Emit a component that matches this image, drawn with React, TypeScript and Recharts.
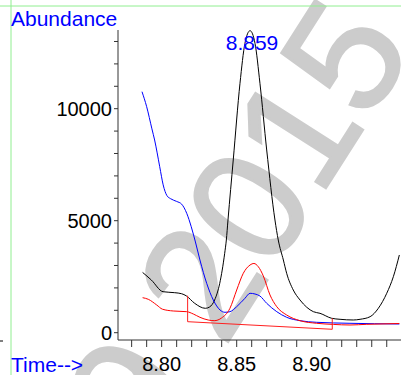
import React from 'react';
import { LineChart, Line, XAxis, YAxis } from 'recharts';

// retention time (min) and abundance
const blackTimes = [
  8.7873, 8.7931, 8.8009, 8.8087, 8.8133, 8.8164, 8.822, 8.8291, 8.832, 8.8353, 8.8387, 8.842,
  8.8431, 8.8442, 8.8477, 8.8522, 8.8555, 8.8589, 8.8622, 8.8655, 8.87, 8.8755, 8.8777, 8.8811,
  8.8833, 8.8877, 8.8922, 8.8967, 8.9011, 8.9055, 8.9133, 8.9189, 8.9277, 8.9322, 8.9389, 8.9444,
  8.95, 8.9544, 8.9584,
];
const blackValues = [
  2690, 2353, 1830, 1786, 1740, 1645, 1312, 1089, 1150, 1460, 2205, 3545,
  4138, 5031, 7710, 11134, 12920, 13482, 12920, 11134, 8156, 5031, 4138, 3246,
  2652, 1906, 1460, 1134, 938, 866, 643, 598, 567, 598, 714, 1089,
  1759, 2500, 3469,
];

const blueTimes = [
  8.7869, 8.79, 8.7935, 8.7953, 8.7987, 8.801, 8.8035, 8.806, 8.81, 8.8133, 8.8167, 8.8197,
  8.8225, 8.8255, 8.83, 8.8344, 8.8389, 8.8422, 8.8455, 8.85, 8.8555, 8.8589, 8.8622, 8.8655,
  8.87, 8.8767, 8.8833, 8.8922, 8.9033, 8.9255, 8.9584,
];
const blueValues = [
  10759, 10089, 9100, 8603, 7411, 6600, 6120, 5980, 5860, 5740, 5330, 4732,
  4050, 3246, 2205, 1460, 1013, 911, 938, 1161, 1536, 1759, 1728, 1638,
  1312, 938, 687, 536, 464, 420, 388,
];

const redTimes = [
  8.7873, 8.7911, 8.7967, 8.8005, 8.8077, 8.8167, 8.8211, 8.8255, 8.831, 8.835, 8.84, 8.8455,
  8.85, 8.8544, 8.8589, 8.8615, 8.8644, 8.8677, 8.8722, 8.8767, 8.8833, 8.8922, 8.9033,
  8.9144, 8.9255, 8.9367, 8.9584,
];
const redValues = [
  1563, 1491, 1237, 1050, 969, 938, 835, 687, 567, 536, 660, 1089,
  1906, 2652, 3022, 3090, 2946, 2540, 1683, 1161, 790, 536, 420,
  370, 344, 375, 410,
];

// integration baseline drawn for the peak
const baseTimes = [8.8173, 8.8173, 8.9137, 8.9137];
const baseValues = [1652, 491, 152, 643];

const xTicks = [8.78, 8.79, 8.8, 8.81, 8.82, 8.83, 8.84, 8.85, 8.86, 8.87, 8.88, 8.89, 8.9, 8.91, 8.92, 8.93, 8.94, 8.95];
const xLabelled = [8.8, 8.85, 8.9];
const yTicks = [0, 1000, 2000, 3000, 4000, 5000, 6000, 7000, 8000, 9000, 10000, 11000, 12000, 13000];

const zip = (ts: number[], vs: number[]) => ts.map((t, i) => ({ t, v: vs[i] }));

const blackData = zip(blackTimes, blackValues);
const blueData = zip(blueTimes, blueValues);
const redData = zip(redTimes, redValues);
const baseData = zip(baseTimes, baseValues);

const FONT = '"Liberation Sans", Arial, Helvetica, sans-serif';

export default function App() {
  return (
    <div style={{ position: 'absolute', left: 0, top: 0, width: 401, height: 375, overflow: 'hidden', background: '#fff', fontFamily: FONT }}>
      {/* watermark */}
      <svg width={401} height={375} style={{ position: 'absolute', left: 0, top: 0 }}>
        <text
          transform="translate(152,461) rotate(-57.5)"
          fontSize={160}
          fill="#cccccc"
          stroke="#cccccc"
          strokeWidth={2.5}
          fontFamily={FONT}
        >
          9 2015
        </text>
      </svg>

      <div style={{ position: 'absolute', left: 0, top: 0 }}>
        <LineChart width={401} height={375} margin={{ top: 30, right: 0, left: 0, bottom: 0 }}>
          <XAxis
            dataKey="t"
            type="number"
            domain={[8.7709, 8.9595]}
            allowDataOverflow
            ticks={xTicks}
            interval={0}
            height={35}
            tickSize={7}
            tickMargin={10}
            tickFormatter={(t: number) => (xLabelled.some((x) => Math.abs(x - t) < 1e-6) ? t.toFixed(2) : '')}
            tick={{ fontSize: 20, fill: '#000' }}
            axisLine={{ stroke: '#333' }}
            tickLine={{ stroke: '#333' }}
          />
          <YAxis
            dataKey="v"
            type="number"
            domain={[-326, 13513]}
            allowDataOverflow
            ticks={yTicks}
            interval={0}
            width={118}
            tickSize={4}
            tickMargin={2}
            tickFormatter={(v: number) => (v % 5000 === 0 ? String(v) : '')}
            tick={{ fontSize: 20, fill: '#000' }}
            axisLine={{ stroke: '#333' }}
            tickLine={{ stroke: '#333' }}
          />
          <Line data={blackData} dataKey="v" type="monotone" stroke="#000" strokeWidth={1} dot={false} isAnimationActive={false} />
          <Line data={blueData} dataKey="v" type="monotone" stroke="#0000ff" strokeWidth={1} dot={false} isAnimationActive={false} />
          <Line data={redData} dataKey="v" type="monotone" stroke="#ff0000" strokeWidth={1} dot={false} isAnimationActive={false} />
          <Line data={baseData} dataKey="v" type="linear" stroke="#ff2020" strokeWidth={1} dot={false} isAnimationActive={false} />
        </LineChart>
      </div>

      <svg width={401} height={375} style={{ position: 'absolute', left: 0, top: 0, pointerEvents: 'none' }}>
        <line x1={0} y1={6} x2={401} y2={6} stroke="#90ee90" strokeWidth={1} />
        <line x1={11} y1={0} x2={11} y2={375} stroke="#90ee90" strokeWidth={1} />
        <line x1={0} y1={341} x2={3} y2={341} stroke="#000" strokeWidth={1} />
        <text x={11} y={26} fontSize={21} fill="#0000ff" fontFamily={FONT}>Abundance</text>
        <text x={11} y={372} fontSize={21} fill="#0000ff" fontFamily={FONT}>Time--&gt;</text>
        <text x={252} y={50} fontSize={21} fill="#0000ff" fontFamily={FONT} textAnchor="middle">8.859</text>
      </svg>
    </div>
  );
}
